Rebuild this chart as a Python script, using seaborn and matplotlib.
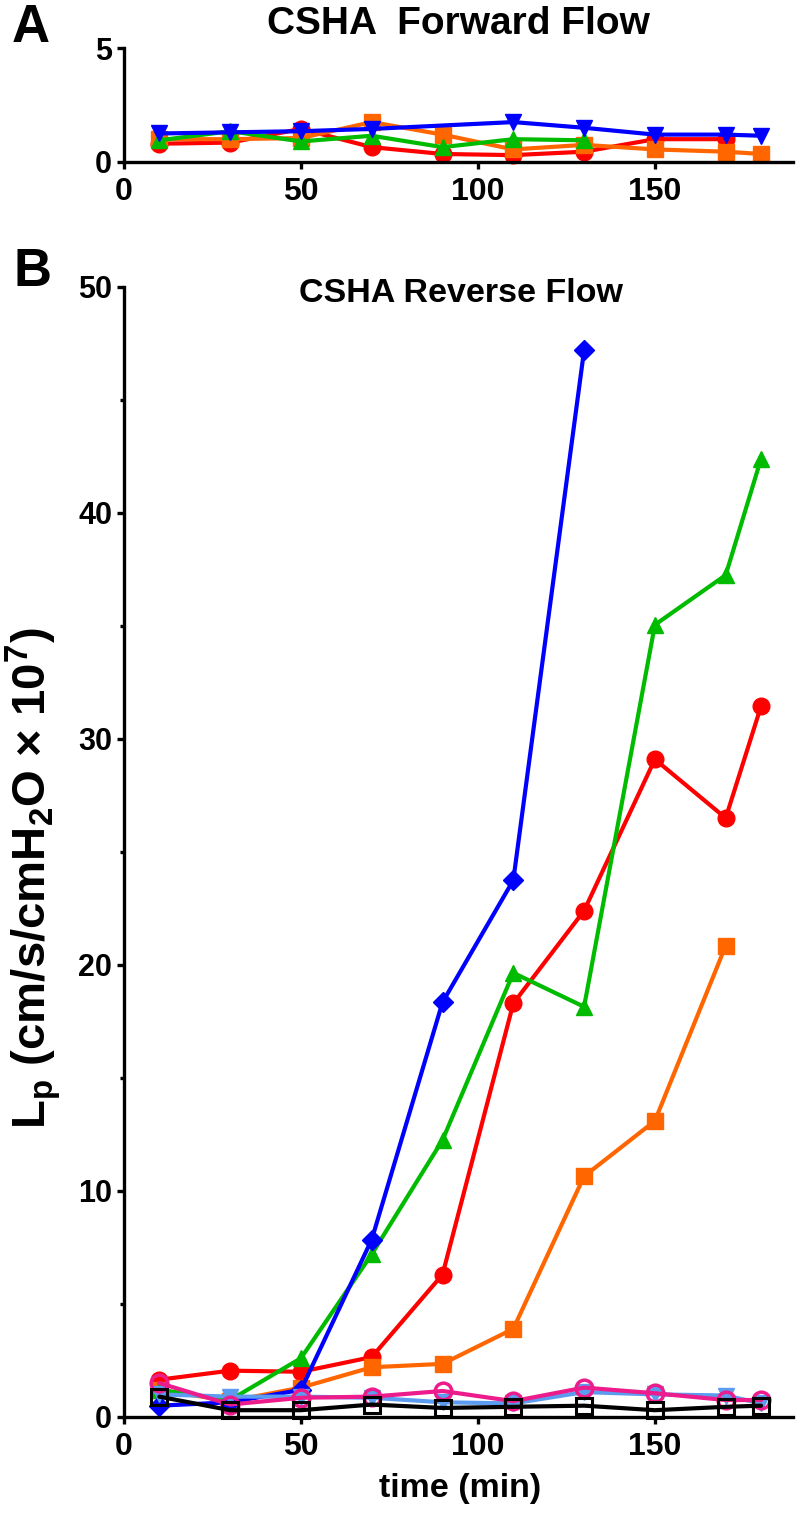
import matplotlib
matplotlib.use("Agg")
import matplotlib.pyplot as plt
import seaborn as sns
from matplotlib.ticker import MultipleLocator

# time points (min)
t_all = [10, 30, 50, 70, 90, 110, 130, 150, 170, 180]

# Panel A - forward flow
t_red_a = [10, 30, 50, 70, 90, 110, 130, 150, 170]
red_a = [0.8, 0.85, 1.45, 0.65, 0.35, 0.3, 0.45, 1.0, 1.0]
t_orange_a = t_all
orange_a = [1.0, 1.0, 1.05, 1.75, 1.2, 0.55, 0.75, 0.55, 0.45, 0.35]
t_green_a = [10, 30, 50, 70, 90, 110, 130]
green_a = [0.95, 1.35, 0.9, 1.15, 0.65, 1.0, 0.95]
t_blue_a = [10, 30, 50, 70, 110, 130, 150, 170, 180]
blue_a = [1.25, 1.3, 1.35, 1.45, 1.75, 1.5, 1.2, 1.2, 1.15]

# Panel B - reverse flow
red_b = [1.65, 2.05, 2.0, 2.65, 6.3, 18.3, 22.4, 29.1, 26.5, 31.45]
t_orange_b = [10, 30, 50, 70, 90, 110, 130, 150, 170]
orange_b = [1.2, 0.7, 1.3, 2.2, 2.35, 3.9, 10.65, 13.1, 20.85]
green_b = [1.2, 0.75, 2.6, 7.2, 12.25, 19.65, 18.15, 35.05, 37.25, 42.4]
t_blue_b = [10, 30, 50, 70, 90, 110, 130]
blue_b = [0.5, 0.65, 1.2, 7.85, 18.35, 23.75, 47.2]
ltblue_b = [1.0, 0.9, 0.9, 0.85, 0.65, 0.6, 1.1, 1.0, 0.95, 0.6]
pink_b = [1.5, 0.55, 0.85, 0.9, 1.15, 0.7, 1.3, 1.05, 0.75, 0.75]
black_b = [0.9, 0.3, 0.3, 0.55, 0.4, 0.45, 0.5, 0.3, 0.45, 0.5]

RED, ORANGE, GREEN, BLUE = "#FF0000", "#FF6600", "#00BB00", "#0000FF"
LTBLUE, PINK, BLACK = "#5B9BF0", "#EC1C8C", "#000000"

sns.set_style("ticks")
plt.rcParams["font.family"] = ["Liberation Sans", "DejaVu Sans"]
plt.rcParams["font.weight"] = "bold"
plt.rcParams["text.color"] = "black"
plt.rcParams["xtick.color"] = "black"
plt.rcParams["ytick.color"] = "black"
plt.rcParams["axes.edgecolor"] = "black"
plt.rcParams["mathtext.fontset"] = "custom"
plt.rcParams["mathtext.rm"] = "Liberation Sans:bold"
plt.rcParams["mathtext.it"] = "Liberation Sans:bold"
plt.rcParams["mathtext.bf"] = "Liberation Sans:bold"

fig = plt.figure(figsize=(8.05, 15.15), dpi=100)
axA = fig.add_axes([0.154, 0.8931, 0.831, 0.0752])
axB = fig.add_axes([0.154, 0.0647, 0.831, 0.7459])

LW = 3.0
MS = 12


def draw(ax, x, y, color, marker, ms=MS, face=None, mew=1.0):
    sns.lineplot(x=x, y=y, ax=ax, color=color, marker=marker, markersize=ms,
                 markerfacecolor=face if face is not None else color,
                 markeredgecolor=color, markeredgewidth=mew,
                 linewidth=LW, clip_on=False)


draw(axA, t_red_a, red_a, RED, "o")
draw(axA, t_orange_a, orange_a, ORANGE, "s", ms=11)
draw(axA, t_green_a, green_a, GREEN, "^")
draw(axA, t_blue_a, blue_a, BLUE, "v")

draw(axB, t_all, red_b, RED, "o")
draw(axB, t_orange_b, orange_b, ORANGE, "s", ms=11)
draw(axB, t_all, green_b, GREEN, "^")
draw(axB, t_blue_b, blue_b, BLUE, "D", ms=10)
draw(axB, t_all, ltblue_b, LTBLUE, "v")
draw(axB, t_all, pink_b, PINK, "o", face="none", mew=2.5)
draw(axB, t_all, black_b, BLACK, "s", ms=11, face="none", mew=2.2)

for ax in (axA, axB):
    ax.set_xlim(0, 189)
    ax.xaxis.set_major_locator(MultipleLocator(50))
    sns.despine(ax=ax)
    for s in ("left", "bottom"):
        ax.spines[s].set_linewidth(2.4)
    ax.tick_params(axis="both", which="major", length=5, width=2.4,
                   labelsize=23, direction="out", colors="black")
    ax.tick_params(axis="x", pad=6)
    ax.tick_params(axis="y", pad=3.5, labelsize=22)
    ax.set_xlabel("")
    ax.set_ylabel("")
    for lab in ax.get_xticklabels() + ax.get_yticklabels():
        lab.set_fontweight("bold")

axA.set_ylim(0, 5)
axA.set_yticks([0, 5])

axB.set_ylim(0, 50)
axB.yaxis.set_major_locator(MultipleLocator(10))
axB.yaxis.set_minor_locator(MultipleLocator(5))
axB.tick_params(axis="y", which="minor", length=3, width=2.4)

fig.text(0.569, 1 - 24 / 1515, "CSHA  Forward Flow", ha="center", va="center",
         fontsize=28, fontweight="bold")
fig.text(0.573, 1 - 293 / 1515, "CSHA Reverse Flow", ha="center", va="center",
         fontsize=24.5, fontweight="bold")
fig.text(0.038, 1 - 28 / 1515, "A", ha="center", va="center", fontsize=38,
         fontweight="bold")
fig.text(0.040, 1 - 272 / 1515, "B", ha="center", va="center", fontsize=38,
         fontweight="bold")
fig.text(0.041, 1 - 878 / 1515,
         r"L$_{\mathrm{p}}$ (cm/s/cmH$_{\mathrm{2}}$O × 10$^{\mathrm{7}}$)",
         rotation=90, ha="center", va="center", fontsize=34, fontweight="bold")
fig.text(0.572, 1 - 1488 / 1515, "time (min)", ha="center", va="center",
         fontsize=24.5, fontweight="bold")

fig.savefig("out.png", dpi=100)
